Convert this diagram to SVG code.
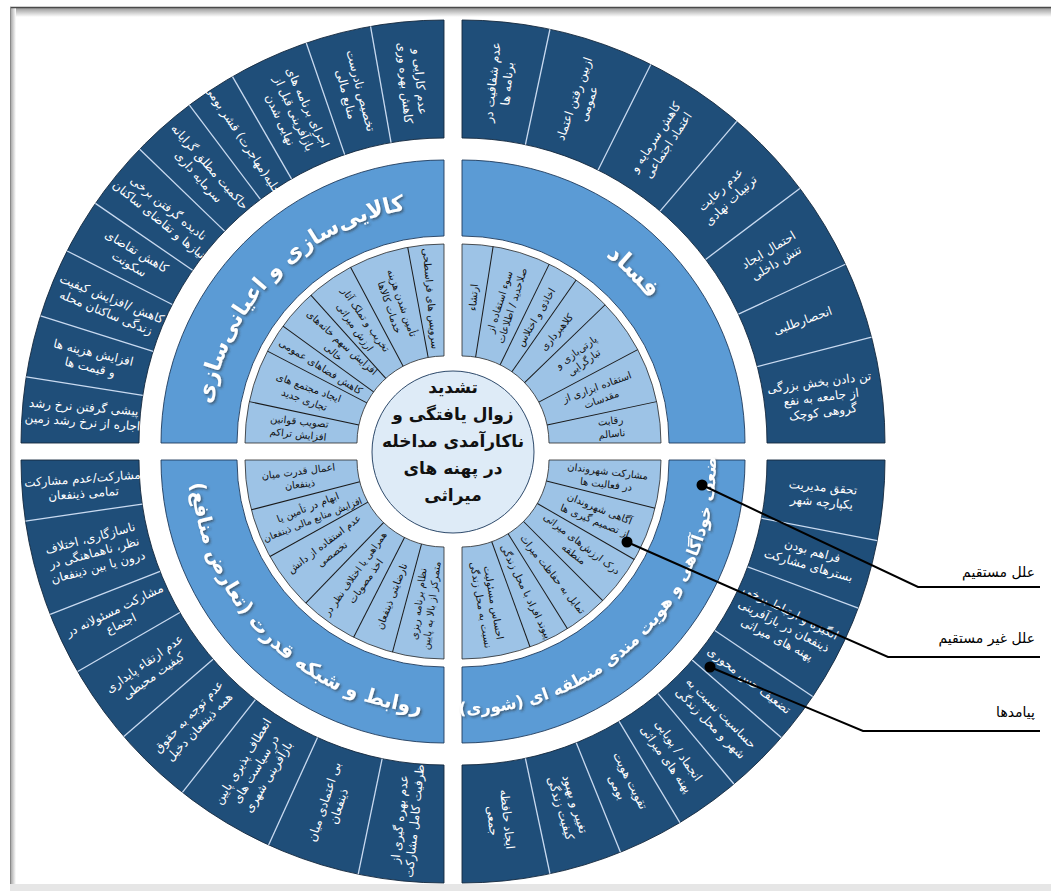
<svg xmlns="http://www.w3.org/2000/svg" width="1051" height="891" viewBox="0 0 1051 891">
<style>
.dk{fill:#1f4e79;stroke:#14283d;stroke-width:0.9}
.md{fill:#5b9bd5;stroke:#1f3b5c;stroke-width:0.9}
.lt{fill:#9dc3e6;stroke:#2a2a2a;stroke-width:0.8}
.dl{stroke:#c9daf0;stroke-width:1.3}
.ll{stroke:#1a1a1a;stroke-width:1}
.tw{fill:#fff;font-family:"DejaVu Sans",sans-serif;font-size:12px;text-anchor:middle;direction:rtl}
.tb{fill:#111;font-family:"DejaVu Sans",sans-serif;font-size:10px;text-anchor:middle;direction:rtl}
.tt{fill:#fff;font-family:"DejaVu Sans",sans-serif;font-weight:bold;text-anchor:middle;direction:rtl}
.lb{fill:#000;font-family:"DejaVu Sans",sans-serif;font-size:14px;text-anchor:end}
</style>
<defs>
<filter id="sh" x="-10%" y="-10%" width="120%" height="130%"><feDropShadow dx="1.5" dy="1.5" stdDeviation="1" flood-color="#2a2a2a" flood-opacity="0.6"/></filter>
<linearGradient id="gt" x1="0" y1="0" x2="0" y2="1"><stop offset="0" stop-color="#9a9a9a"/><stop offset="1" stop-color="#ffffff"/></linearGradient>
<linearGradient id="gl" x1="0" y1="0" x2="1" y2="0"><stop offset="0" stop-color="#9a9a9a"/><stop offset="1" stop-color="#ffffff"/></linearGradient>
<path id="pTR" d="M462,207 A236,236 0 0 1 698,443"/>
<path id="pTL" d="M208,443 A236,236 0 0 1 444,207"/>
<path id="pBL" d="M190,460 A254,254 0 0 0 444,714"/>
<path id="pBR" d="M453.14,713.85 A254,254 0 0 0 715.85,451.14"/>
</defs>
<rect width="1051" height="891" fill="#fff"/>
<g id="frame">
<rect x="11" y="8" width="1040" height="9" fill="url(#gt)"/>
<rect x="10" y="8" width="6" height="878" fill="url(#gl)"/>
<line x1="10" y1="7.5" x2="1051" y2="7.5" stroke="#4a4a4a" stroke-width="1.5"/>
<line x1="10.5" y1="7" x2="10.5" y2="886" stroke="#8a8a8a" stroke-width="1"/>
<rect x="10" y="884" width="1041" height="7" fill="#e6e6e6"/>
</g>

<g id="quadrant-tr" transform="translate(462 443)">
<path class="dk" d="M0,-423 A423,423 0 0 1 423,0 L305,0 A305,305 0 0 0 0,-305 Z"/>
<path class="md" d="M0,-283 A283,283 0 0 1 283,0 L207,0 A207,207 0 0 0 0,-207 Z"/>
<path class="lt" d="M0,-199 A199,199 0 0 1 199,0 L87,0 A87,87 0 0 0 0,-87 Z"/>
<g class="dl"><line x1="305" x2="423" transform="rotate(-78)"/><line x1="305" x2="423" transform="rotate(-63.5)"/><line x1="305" x2="423" transform="rotate(-49.5)"/><line x1="305" x2="423" transform="rotate(-37)"/><line x1="305" x2="423" transform="rotate(-25)"/><line x1="305" x2="423" transform="rotate(-14.5)"/></g>
<g class="ll"><line x1="87" x2="199" transform="rotate(-81)"/><line x1="87" x2="199" transform="rotate(-64)"/><line x1="87" x2="199" transform="rotate(-55)"/><line x1="87" x2="199" transform="rotate(-44)"/><line x1="87" x2="199" transform="rotate(-28)"/><line x1="87" x2="199" transform="rotate(-12)"/></g>
<g class="tw">
<text transform="rotate(-84) translate(362 0)"><tspan x="0" y="-3.5">عدم شفافیت در</tspan><tspan x="0" y="11.5">برنامه ها</tspan></text>
<text transform="rotate(-70.75) translate(362 0)"><tspan x="0" y="-3.5">ازبین رفتن اعتماد</tspan><tspan x="0" y="11.5">عمومی</tspan></text>
<text transform="rotate(-56.5) translate(362 0)"><tspan x="0" y="-3.5">کاهش سرمایه و</tspan><tspan x="0" y="11.5">اعتماد اجتماعی</tspan></text>
<text transform="rotate(-43.25) translate(362 0)"><tspan x="0" y="-3.5">عدم رعایت</tspan><tspan x="0" y="11.5">ترتیبات نهادی</tspan></text>
<text transform="rotate(-31) translate(362 0)"><tspan x="0" y="-3.5">احتمال ایجاد</tspan><tspan x="0" y="11.5">تنش داخلی</tspan></text>
<text transform="rotate(-19.75) translate(362 0)"><tspan x="0" y="4">انحصارطلبی</tspan></text>
<text transform="rotate(-7.25) translate(362 0)"><tspan x="0" y="-11">تن دادن بخش بزرگی</tspan><tspan x="0" y="4">از جامعه به نفع</tspan><tspan x="0" y="19">گروهی کوچک</tspan></text>
</g>
<g class="tb">
<text transform="rotate(-85.5) translate(146 0)"><tspan x="0" y="3.5">ارتشاء</tspan></text>
<text transform="rotate(-72.5) translate(146 0)"><tspan x="0" y="-3">سوء استفاده از</tspan><tspan x="0" y="10">صلاحدید / اطلاعات</tspan></text>
<text transform="rotate(-59.5) translate(146 0)"><tspan x="0" y="3.5">اخاذی و اختلاس</tspan></text>
<text transform="rotate(-49.5) translate(146 0)"><tspan x="0" y="3.5">کلاهبرداری</tspan></text>
<text transform="rotate(-36) translate(146 0)"><tspan x="0" y="-3">پارتی‌بازی و</tspan><tspan x="0" y="10">تبارگرایی</tspan></text>
<text transform="rotate(-20) translate(146 0)"><tspan x="0" y="-3">استفاده ابزاری از</tspan><tspan x="0" y="10">مقدسات</tspan></text>
<text transform="rotate(-6) translate(150 0)"><tspan x="0" y="-3">رقابت</tspan><tspan x="0" y="10">ناسالم</tspan></text>
</g>
</g>

<g id="quadrant-tl" transform="translate(444 443)">
<path class="dk" d="M-423,0 A423,423 0 0 1 0,-423 L0,-305 A305,305 0 0 0 -305,0 Z"/>
<path class="md" d="M-283,0 A283,283 0 0 1 0,-283 L0,-207 A207,207 0 0 0 -207,0 Z"/>
<path class="lt" d="M-199,0 A199,199 0 0 1 0,-199 L0,-87 A87,87 0 0 0 -87,0 Z"/>
<g class="dl"><line x1="305" x2="423" transform="rotate(189)"/><line x1="305" x2="423" transform="rotate(197.5)"/><line x1="305" x2="423" transform="rotate(207)"/><line x1="305" x2="423" transform="rotate(214.5)"/><line x1="305" x2="423" transform="rotate(224)"/><line x1="305" x2="423" transform="rotate(233)"/><line x1="305" x2="423" transform="rotate(240)"/><line x1="305" x2="423" transform="rotate(251)"/><line x1="305" x2="423" transform="rotate(260)"/></g>
<g class="ll"><line x1="87" x2="199" transform="rotate(192)"/><line x1="87" x2="199" transform="rotate(207.5)"/><line x1="87" x2="199" transform="rotate(216)"/><line x1="87" x2="199" transform="rotate(228)"/><line x1="87" x2="199" transform="rotate(242)"/><line x1="87" x2="199" transform="rotate(259.5)"/></g>
<g class="tw">
<text transform="rotate(184.5) translate(362 0) rotate(180)"><tspan x="0" y="-3.5">پیشی گرفتن نرخ رشد</tspan><tspan x="0" y="11.5">اجاره از نرخ رشد زمین</tspan></text>
<text transform="rotate(193.25) translate(362 0) rotate(180)"><tspan x="0" y="-3.5">افزایش هزینه ها</tspan><tspan x="0" y="11.5">و قیمت ها</tspan></text>
<text transform="rotate(202.25) translate(362 0) rotate(180)"><tspan x="0" y="-3.5">کاهش /افزایش کیفیت</tspan><tspan x="0" y="11.5">زندگی ساکنان محله</tspan></text>
<text transform="rotate(210.75) translate(362 0) rotate(180)"><tspan x="0" y="-3.5">کاهش تقاضای</tspan><tspan x="0" y="11.5">سکونت</tspan></text>
<text transform="rotate(219.25) translate(362 0) rotate(180)"><tspan x="0" y="-3.5">نادیده گرفتن برخی</tspan><tspan x="0" y="11.5">نیازها و تقاضای ساکنان</tspan></text>
<text transform="rotate(228.5) translate(362 0) rotate(180)"><tspan x="0" y="-3.5">حاکمیت مطلق گرایانه</tspan><tspan x="0" y="11.5">سرمایه داری</tspan></text>
<text transform="rotate(236.5) translate(362 0) rotate(180)"><tspan x="0" y="4">تخلیه(مهاجرت) قشر بومی</tspan></text>
<text transform="rotate(245.5) translate(362 0) rotate(180)"><tspan x="0" y="-11">اجرای برنامه های</tspan><tspan x="0" y="4">بازآفرینی قبل از</tspan><tspan x="0" y="19">نهایی شدن</tspan></text>
<text transform="rotate(255.5) translate(362 0) rotate(180)"><tspan x="0" y="-3.5">تخصیص نادرست</tspan><tspan x="0" y="11.5">منابع مالی</tspan></text>
<text transform="rotate(265) translate(362 0) rotate(180)"><tspan x="0" y="-3.5">عدم کارایی و</tspan><tspan x="0" y="11.5">کاهش بهره وری</tspan></text>
</g>
<g class="tb">
<text transform="rotate(186) translate(146 0) rotate(180)"><tspan x="0" y="-3">تصویب قوانین</tspan><tspan x="0" y="10">افزایش تراکم</tspan></text>
<text transform="rotate(199.75) translate(146 0) rotate(180)"><tspan x="0" y="-3">ایجاد مجتمع های</tspan><tspan x="0" y="10">تجاری جدید</tspan></text>
<text transform="rotate(211.75) translate(145 0) rotate(180)"><tspan x="0" y="3.5">کاهش فضاهای عمومی</tspan></text>
<text transform="rotate(222) translate(143 0) rotate(180)"><tspan x="0" y="-3">افزایش سهم خانه‌های</tspan><tspan x="0" y="10">خالی</tspan></text>
<text transform="rotate(235) translate(146 0) rotate(180)"><tspan x="0" y="-3">تخریب و تملک آثار</tspan><tspan x="0" y="10">ارزش میراثی</tspan></text>
<text transform="rotate(250.75) translate(146 0) rotate(180)"><tspan x="0" y="-3">تأمین شدن هزینه</tspan><tspan x="0" y="10">خدمات کالاها</tspan></text>
<text transform="rotate(264.75) translate(145 0) rotate(180)"><tspan x="0" y="3.5">سرویس های فراسطحی</tspan></text>
</g>
</g>

<g id="quadrant-bl" transform="translate(444 460)">
<path class="dk" d="M0,423 A423,423 0 0 1 -423,0 L-305,0 A305,305 0 0 0 0,305 Z"/>
<path class="md" d="M0,283 A283,283 0 0 1 -283,0 L-207,0 A207,207 0 0 0 0,207 Z"/>
<path class="lt" d="M0,199 A199,199 0 0 1 -199,0 L-87,0 A87,87 0 0 0 0,87 Z"/>
<g class="dl"><line x1="305" x2="423" transform="rotate(171.7)"/><line x1="305" x2="423" transform="rotate(158.6)"/><line x1="305" x2="423" transform="rotate(150)"/><line x1="305" x2="423" transform="rotate(139.2)"/><line x1="305" x2="423" transform="rotate(128.2)"/><line x1="305" x2="423" transform="rotate(114.5)"/><line x1="305" x2="423" transform="rotate(101.7)"/></g>
<g class="ll"><line x1="87" x2="199" transform="rotate(165.5)"/><line x1="87" x2="199" transform="rotate(151)"/><line x1="87" x2="199" transform="rotate(134)"/><line x1="87" x2="199" transform="rotate(117)"/><line x1="87" x2="199" transform="rotate(105)"/></g>
<g class="tw">
<text transform="rotate(175.85) translate(362 0) rotate(180)"><tspan x="0" y="-3.5">مشارکت/عدم مشارکت</tspan><tspan x="0" y="11.5">تمامی ذینفعان</tspan></text>
<text transform="rotate(165.15) translate(362 0) rotate(180)"><tspan x="0" y="-11">ناسازگاری، اختلاف</tspan><tspan x="0" y="4">نظر، ناهماهنگی در</tspan><tspan x="0" y="19">درون یا بین ذینفعان</tspan></text>
<text transform="rotate(154.3) translate(362 0) rotate(180)"><tspan x="0" y="-3.5">مشارکت مسئولانه در</tspan><tspan x="0" y="11.5">اجتماع</tspan></text>
<text transform="rotate(144.6) translate(362 0) rotate(180)"><tspan x="0" y="-3.5">عدم ارتقاء پایداری</tspan><tspan x="0" y="11.5">کیفیت محیطی</tspan></text>
<text transform="rotate(133.7) translate(362 0) rotate(180)"><tspan x="0" y="-3.5">عدم توجه به حقوق</tspan><tspan x="0" y="11.5">همه ذینفعان دخیل</tspan></text>
<text transform="rotate(121.35) translate(362 0) rotate(180)"><tspan x="0" y="-11">انعطاف پذیری پایین</tspan><tspan x="0" y="4">در سیاست های</tspan><tspan x="0" y="19">بازآفرینی شهری</tspan></text>
<text transform="rotate(108.1) translate(362 0) rotate(180)"><tspan x="0" y="-3.5">بی اعتمادی میان</tspan><tspan x="0" y="11.5">ذینفعان</tspan></text>
<text transform="rotate(95.85) translate(362 0) rotate(180)"><tspan x="0" y="-3.5">عدم بهره گیری از</tspan><tspan x="0" y="11.5">ظرفیت کامل مشارکت</tspan></text>
</g>
<g class="tb">
<text transform="rotate(173) translate(146 0) rotate(180)"><tspan x="0" y="-3">اعمال قدرت میان</tspan><tspan x="0" y="10">ذینفعان</tspan></text>
<text transform="rotate(158.25) translate(144 0) rotate(180)"><tspan x="0" y="-3">ابهام در تأمین یا</tspan><tspan x="0" y="10" font-size="9.5">افزایش منابع مالی ذینفعان</tspan></text>
<text transform="rotate(142.5) translate(146 0) rotate(180)"><tspan x="0" y="-3">عدم استفاده از دانش</tspan><tspan x="0" y="10">تخصصی</tspan></text>
<text transform="rotate(125.5) translate(144 0) rotate(180)"><tspan x="0" y="-3" font-size="9.5">همراهی یا اختلاف نظر در</tspan><tspan x="0" y="10">اخذ مصوبات</tspan></text>
<text transform="rotate(111) translate(146 0) rotate(180)"><tspan x="0" y="3.5">نارضایتی ذینفعان</tspan></text>
<text transform="rotate(97.5) translate(146 0) rotate(180)"><tspan x="0" y="-3">نظام برنامه ریزی</tspan><tspan x="0" y="10">متمرکز از بالا به پایین</tspan></text>
</g>
</g>

<g id="quadrant-br" transform="translate(462 460)">
<path class="dk" d="M423,0 A423,423 0 0 1 0,423 L0,305 A305,305 0 0 0 305,0 Z"/>
<path class="md" d="M283,0 A283,283 0 0 1 0,283 L0,207 A207,207 0 0 0 207,0 Z"/>
<path class="lt" d="M199,0 A199,199 0 0 1 0,199 L0,87 A87,87 0 0 0 87,0 Z"/>
<g class="dl"><line x1="305" x2="423" transform="rotate(11)"/><line x1="305" x2="423" transform="rotate(20.5)"/><line x1="305" x2="423" transform="rotate(34)"/><line x1="305" x2="423" transform="rotate(41)"/><line x1="305" x2="423" transform="rotate(50)"/><line x1="305" x2="423" transform="rotate(59)"/><line x1="305" x2="423" transform="rotate(68)"/><line x1="305" x2="423" transform="rotate(78)"/></g>
<g class="ll"><line x1="87" x2="199" transform="rotate(14)"/><line x1="87" x2="199" transform="rotate(30)"/><line x1="87" x2="199" transform="rotate(45)"/><line x1="87" x2="199" transform="rotate(58)"/><line x1="87" x2="199" transform="rotate(70)"/></g>
<g class="tw">
<text transform="rotate(5.5) translate(362 0)"><tspan x="0" y="-3.5">تحقق مدیریت</tspan><tspan x="0" y="11.5">یکپارچه شهر</tspan></text>
<text transform="rotate(15.75) translate(362 0)"><tspan x="0" y="-3.5">فراهم بودن</tspan><tspan x="0" y="11.5">بسترهای مشارکت</tspan></text>
<text transform="rotate(27.25) translate(362 0)"><tspan x="0" y="-11">انگیزه و ارتباط برخی</tspan><tspan x="0" y="4">ذینفعان در بازآفرینی</tspan><tspan x="0" y="19">پهنه های میراثی</tspan></text>
<text transform="rotate(37.5) translate(362 0)"><tspan x="0" y="4">تضعیف حس محوری</tspan></text>
<text transform="rotate(45.5) translate(362 0)"><tspan x="0" y="-3.5">حساسیت نسبت به</tspan><tspan x="0" y="11.5">شهر و محل زندگی</tspan></text>
<text transform="rotate(54.5) translate(362 0)"><tspan x="0" y="-3.5">انجماد / پویایی</tspan><tspan x="0" y="11.5">پهنه های میراثی</tspan></text>
<text transform="rotate(63.5) translate(362 0)"><tspan x="0" y="-3.5">تقویت هویت</tspan><tspan x="0" y="11.5">بومی</tspan></text>
<text transform="rotate(73) translate(362 0)"><tspan x="0" y="-3.5">تغییر و بهبود</tspan><tspan x="0" y="11.5">کیفیت زندگی</tspan></text>
<text transform="rotate(84) translate(362 0)"><tspan x="0" y="-3.5">ایجاد حافظه</tspan><tspan x="0" y="11.5">جمعی</tspan></text>
</g>
<g class="tb">
<text transform="rotate(7) translate(146 0)"><tspan x="0" y="-3">مشارکت شهروندان</tspan><tspan x="0" y="10">در فعالیت ها</tspan></text>
<text transform="rotate(22) translate(146 0)"><tspan x="0" y="-3">آگاهی شهروندان</tspan><tspan x="0" y="10">از تصمیم گیری ها</tspan></text>
<text transform="rotate(37.5) translate(146 0)"><tspan x="0" y="-3">درک ارزش‌های میراثی</tspan><tspan x="0" y="10">منطقه</tspan></text>
<text transform="rotate(51.5) translate(146 0)"><tspan x="0" y="3.5">تمایل به حفاظت میراث</tspan></text>
<text transform="rotate(64) translate(146 0)"><tspan x="0" y="3.5">پیوند افراد با محل زندگی</tspan></text>
<text transform="rotate(80) translate(146 0)"><tspan x="0" y="-3">احساس مسئولیت</tspan><tspan x="0" y="10">نسبت به محل زندگی</tspan></text>
</g>
</g>

<g id="titles" filter="url(#sh)">
<text class="tt" font-size="24"><textPath href="#pTR" startOffset="50%">فساد</textPath></text>
<text class="tt" font-size="22"><textPath href="#pTL" startOffset="50%">کالایی‌سازی و اعیانی‌سازی</textPath></text>
<text class="tt" font-size="20"><textPath href="#pBL" startOffset="50%">روابط و شبکه قدرت (تعارض منافع)</textPath></text>
<text class="tt" font-size="16.5"><textPath href="#pBR" startOffset="50%">ضعف خودآگاهی و هویت مندی منطقه ای (شوری)</textPath></text>
</g>

<g id="center">
<circle cx="453" cy="452" r="81" fill="#deebf7" stroke="#2e4a6b" stroke-width="1"/>
<text font-family="DejaVu Sans,sans-serif" font-weight="bold" font-size="17" fill="#111" text-anchor="middle" direction="rtl"><tspan x="453" y="393">تشدید</tspan><tspan x="453" y="420">زوال یافتگی و</tspan><tspan x="453" y="447">ناکارآمدی مداخله</tspan><tspan x="453" y="474">در پهنه های</tspan><tspan x="453" y="501">میراثی</tspan></text>
</g>

<g id="connectors" fill="none" stroke="#000" stroke-width="2">
<polyline points="702,485 918,587 1040,587"/>
<polyline points="627,542 888,657 1040,657"/>
<polyline points="710,667 863,731 1040,731"/>
</g>
<g id="connector-dots" fill="#000">
<circle cx="702" cy="485" r="5.5"/>
<circle cx="627" cy="542" r="5.5"/>
<circle cx="710" cy="667" r="5.5"/>
</g>
<g id="labels">
<text class="lb" x="1035" y="577">علل مستقیم</text>
<text class="lb" x="1035" y="643">علل غیر مستقیم</text>
<text class="lb" x="1035" y="717">پیامدها</text>
</g>
</svg>
